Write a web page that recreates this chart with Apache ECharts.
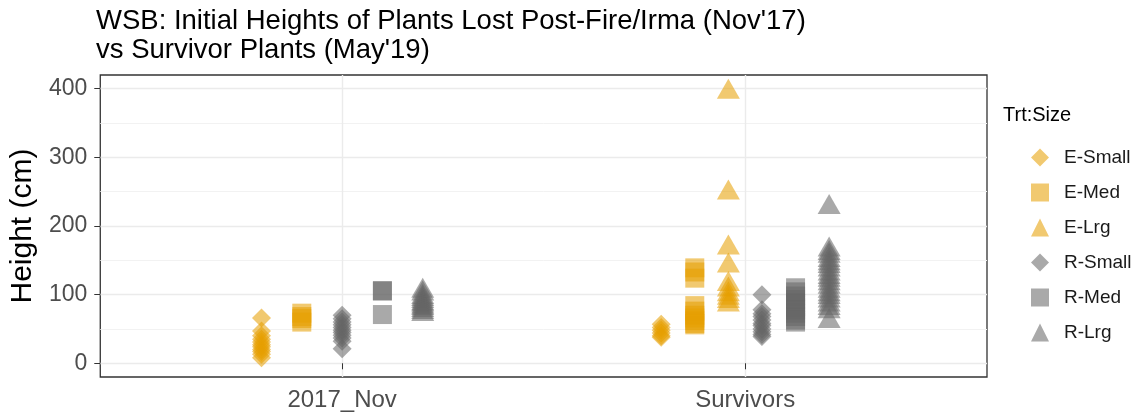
<!DOCTYPE html>
<html>
<head>
<meta charset="utf-8">
<script src="https://cdn.jsdelivr.net/npm/echarts@6/dist/echarts.min.js"></script>
<style>
  html, body { margin: 0; padding: 0; background: #fff; }
  #chart { width: 1144px; height: 418px; }
</style>
</head>
<body>
<div id="chart"></div>
<script>
// categories and groups
const categories = ["2017_Nov", "Survivors"];
const seriesNames = ["E-Small", "E-Med", "E-Lrg", "R-Small", "R-Med", "R-Lrg"];
const yTicks = [0, 100, 200, 300, 400];
const yMinorTicks = [50, 150, 250, 350];

// heights (cm)
const eSmallNov = [66, 47, 40, 35, 31, 27, 24, 20, 17, 13, 8];
const eSmallSurv = [57, 52, 48, 44, 40, 38];
const eMedNov = [73, 68, 65, 60];
const eMedSurv = [139, 133, 124, 84, 76, 70, 66, 62, 58, 56];
const eLrgNov = [];
const eLrgSurv = [400, 253, 173, 147, 120, 112, 105, 100, 95, 90];
const rSmallNov = [70, 65, 60, 56, 52, 48, 45, 41, 37, 32, 21];
const rSmallSurv = [100, 78, 72, 68, 63, 58, 55, 50, 46, 42, 39];
const rMedNov = [106, 105, 71];
const rMedSurv = [110, 104, 98, 93, 88, 82, 78, 73, 68, 63, 60];
const rLrgNov = [110, 106, 101, 98, 95, 92, 90, 87, 85, 82, 79, 76];
const rLrgSurv = [232, 170, 165, 161, 155, 150, 146, 141, 135, 130, 126, 121, 116, 110, 105, 101, 96, 90, 85, 80, 66];

const groupValues = [
  [eSmallNov, eSmallSurv],
  [eMedNov, eMedSurv],
  [eLrgNov, eLrgSurv],
  [rSmallNov, rSmallSurv],
  [rMedNov, rMedSurv],
  [rLrgNov, rLrgSurv],
];

const orange = "rgba(230,159,0,0.7)";
const grey = "rgba(102,102,102,0.7)";
const looks = [
  { symbol: "diamond", size: 19, color: orange },
  { symbol: "rect", size: 19, color: orange },
  { symbol: "triangle", size: [23, 20], color: orange },
  { symbol: "diamond", size: 19, color: grey },
  { symbol: "rect", size: 19, color: grey },
  { symbol: "triangle", size: [23, 20], color: grey },
];

// dodge like ggplot: groups present in a category share a width of 0.5
const dodgeWidth = 0.5;
function dodgedX(g, c) {
  const present = [];
  groupValues.forEach((vals, i) => { if (vals[c].length) present.push(i); });
  const n = present.length;
  const k = present.indexOf(g);
  return c + 1 + (k - (n - 1) / 2) * (dodgeWidth / n);
}

const series = seriesNames.map((name, g) => {
  const data = [];
  categories.forEach((cat, c) => {
    groupValues[g][c].forEach((v) => data.push([dodgedX(g, c), v]));
  });
  return {
    name: name,
    type: "scatter",
    symbol: looks[g].symbol,
    symbolSize: looks[g].size,
    itemStyle: { color: looks[g].color },
    data: data,
  };
});

const font = "'Liberation Sans', Arial, sans-serif";
const mychart = echarts.init(document.getElementById("chart"));
const option = {
  animation: false,
  textStyle: { fontFamily: font },
  title: {
    text: "WSB: Initial Heights of Plants Lost Post-Fire/Irma (Nov'17)\nvs Survivor Plants (May'19)",
    left: 91,
    top: 2,
    textStyle: { fontSize: 27.5, fontWeight: "normal", color: "#000", lineHeight: 29, fontFamily: font },
  },
  graphic: [
    {
      type: "text",
      left: 1003,
      top: 105,
      style: { text: "Trt:Size", fontSize: 20, fill: "#000", fontFamily: font },
    },
  ],
  legend: {
    data: seriesNames,
    orient: "vertical",
    left: 1026,
    top: 143,
    itemWidth: 18,
    itemHeight: 18,
    itemGap: 16,
    textStyle: { fontSize: 19, color: "#1a1a1a", fontFamily: font, padding: [0, 0, 0, 10] },
  },
  grid: {
    show: true,
    left: 94,
    right: 157,
    top: 75,
    bottom: 41,
    borderColor: "#333",
    borderWidth: 1.3,
  },
  xAxis: {
    type: "value",
    min: 0.4,
    max: 2.6,
    axisLine: { show: false },
    axisTick: { show: true, length: 6, customValues: [1, 2], lineStyle: { color: "#333" } },
    axisLabel: {
      customValues: [1, 2],
      formatter: (v) => categories[Math.round(v) - 1],
      fontSize: 24,
      color: "#4d4d4d",
      margin: 11,
    },
    splitLine: { show: true, lineStyle: { color: "#ebebeb", width: 1.4 } },
  },
  yAxis: [
    {
      type: "value",
      position: "left",
      min: -20,
      max: 420,
      name: "Height (cm)",
      nameLocation: "middle",
      nameGap: 48,
      nameTextStyle: { fontSize: 30, color: "#000", fontFamily: font },
      axisLine: { show: false },
      axisTick: { show: true, length: 6, customValues: yTicks, lineStyle: { color: "#333" } },
      axisLabel: { customValues: yTicks, fontSize: 23, color: "#4d4d4d", margin: 13 },
      splitLine: { show: true, lineStyle: { color: "#ebebeb", width: 1.4 } },
    },
    {
      type: "value",
      position: "left",
      min: -20,
      max: 420,
      axisLine: { show: false },
      axisTick: { show: false, customValues: yMinorTicks },
      axisLabel: { show: false, customValues: yMinorTicks },
      splitLine: { show: true, lineStyle: { color: "#f2f2f2", width: 1 } },
    },
  ],
  series: series,
};
mychart.setOption(option);
</script>
</body>
</html>
